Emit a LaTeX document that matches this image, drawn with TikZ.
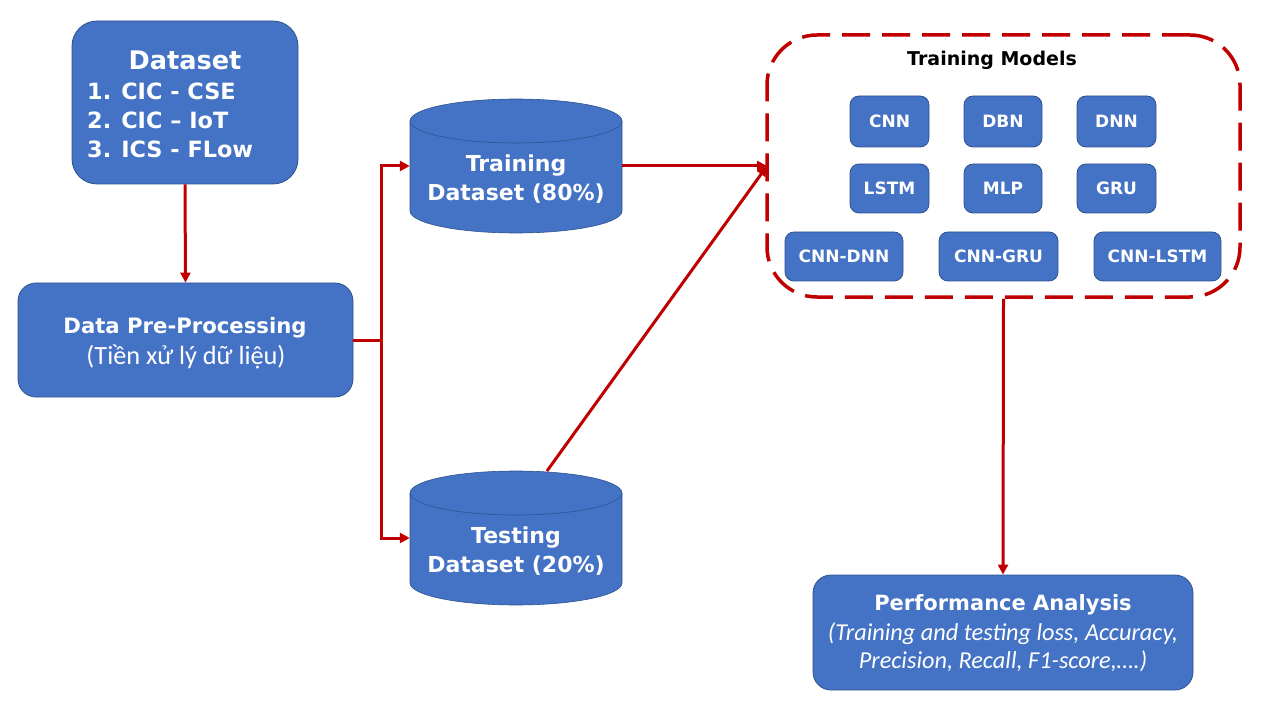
\documentclass[tikz,border=0pt]{standalone}
\usepackage{fontspec}
\setmainfont{DejaVu Sans}
\newfontfamily\calib{Carlito}
\usetikzlibrary{arrows.meta}
\definecolor{boxblue}{HTML}{4472C4}
\definecolor{boxedge}{HTML}{2F528F}
\definecolor{arrred}{HTML}{C00000}
\tikzset{
  bluebox/.style={draw=boxedge, line width=0.8pt, fill=boxblue, rounded corners=#1, text=white, align=center, inner sep=0pt},
  bluebox/.default=22pt,
  modelbox/.style={draw=boxedge, line width=0.8pt, fill=boxblue, rounded corners=9pt, text=white, font=\bfseries\fontsize{17}{20}\selectfont, inner sep=0pt},
  cylbody/.style={inner sep=0pt, minimum width=212pt, minimum height=134pt},
  cyltext/.style={text=white, align=center, inner sep=0pt, font=\bfseries\fontsize{22}{29}\selectfont},
  cylfill/.style={fill=boxblue, draw=boxedge, line width=0.6pt},
  redarrow/.style={draw=arrred, line width=3pt, -{Triangle[length=10pt,width=10pt]}},
  redline/.style={draw=arrred, line width=3pt},
}
\begin{document}
\begin{tikzpicture}[x=1pt,y=-1pt]
\useasboundingbox (0,0) rectangle (1263,711);
% Dataset box
\node[bluebox=25pt, minimum width=226pt, minimum height=163pt] (ds) at (185,102.5) {};
\node[text=white, font=\bfseries\fontsize{25.6}{29}\selectfont] (dstitle) at (185,60) {Dataset};
\node[text=white, font=\bfseries\fontsize{22.4}{29}\selectfont, align=left, anchor=west, inner sep=0pt] (dslist) at (87,120)
  {1.\hspace{10pt}CIC - CSE\\ 2.\hspace{10pt}CIC -- IoT\\ 3.\hspace{10pt}ICS - FLow};
% Pre-processing
\node[bluebox=18pt, minimum width=335pt, minimum height=114pt] (pre) at (185.5,340) {};
\node[text=white, font=\bfseries\fontsize{21.2}{24}\selectfont] (pretitle) at (185,328) {Data Pre-Processing};
\node[text=white, font=\calib\fontsize{26.3}{28}\selectfont] (presub) at (186,357) {(Tiền xử lý dữ liệu)};
% Cylinders
\node[cylbody] (train) at (516,166) {};
\path[cylfill] (410,121) -- (410,211) arc[start angle=180, end angle=0, x radius=106, y radius=22]
  -- (622,121) arc[start angle=0, end angle=-180, x radius=106, y radius=22] -- cycle;
\draw[boxedge, line width=0.6pt] (410,121) arc[start angle=180, end angle=0, x radius=106, y radius=22];
\node[cyltext] (trainlbl) at (516,179.5) {Training\\Dataset (80\%)};
\node[cylbody] (test) at (516,538) {};
\path[cylfill] (410,493) -- (410,583) arc[start angle=180, end angle=0, x radius=106, y radius=22]
  -- (622,493) arc[start angle=0, end angle=-180, x radius=106, y radius=22] -- cycle;
\draw[boxedge, line width=0.6pt] (410,493) arc[start angle=180, end angle=0, x radius=106, y radius=22];
\node[cyltext] (testlbl) at (516,551.5) {Testing\\Dataset (20\%)};
% Training models dashed container
\node[draw=arrred, line width=3.5pt, dash pattern=on 28pt off 12pt, rounded corners=50pt, minimum width=473pt, minimum height=262pt] (tm) at (1003.5,166) {};
\node[font=\bfseries\fontsize{19}{22}\selectfont, text=black] (tmtitle) at (992,60) {Training Models};
\node[modelbox, minimum width=79pt, minimum height=51pt] (cnn) at (889.5,121.5) {CNN};
\node[modelbox, minimum width=78pt, minimum height=51pt] (dbn) at (1003,121.5) {DBN};
\node[modelbox, minimum width=79pt, minimum height=51pt] (dnn) at (1116.5,121.5) {DNN};
\node[modelbox, minimum width=79pt, minimum height=49pt] (lstm) at (889.5,188.5) {LSTM};
\node[modelbox, minimum width=78pt, minimum height=49pt] (mlp) at (1003,188.5) {MLP};
\node[modelbox, minimum width=79pt, minimum height=49pt] (gru) at (1116.5,188.5) {GRU};
\node[modelbox, minimum width=118pt, minimum height=49pt] (cnndnn) at (844,256.5) {CNN-DNN};
\node[modelbox, minimum width=119pt, minimum height=49pt] (cnngru) at (998.5,256.5) {CNN-GRU};
\node[modelbox, minimum width=127pt, minimum height=49pt] (cnnlstm) at (1157.5,256.5) {CNN-LSTM};
% Performance
\node[bluebox=18pt, minimum width=380pt, minimum height=115pt] (perf) at (1003,632.5) {};
\node[text=white, font=\bfseries\fontsize{21}{24}\selectfont] (perftitle) at (1003,605) {Performance Analysis};
\node[text=white, font=\calib\itshape\fontsize{24.3}{28}\selectfont, align=center] (perfsub) at (1003,647)
  {(Training and testing loss, Accuracy,\\Precision, Recall, F1-score,\dots.)};
% Connectors
\coordinate (split) at (381,340);
\coordinate (tmin) at (767,166);
\coordinate (testtop) at (547,471);
\draw[redarrow] (ds.south) -- (pre.north);
\draw[redline] (pre.east) -- (split);
\draw[redarrow] (split) |- (train.west);
\draw[redarrow] (split) |- (test.west);
\draw[redarrow] (train.east) -- (tmin);
\draw[redarrow] (testtop) -- (tmin);
\draw[redarrow] (tm.south) -- (perf.north);
\end{tikzpicture}
\end{document}
